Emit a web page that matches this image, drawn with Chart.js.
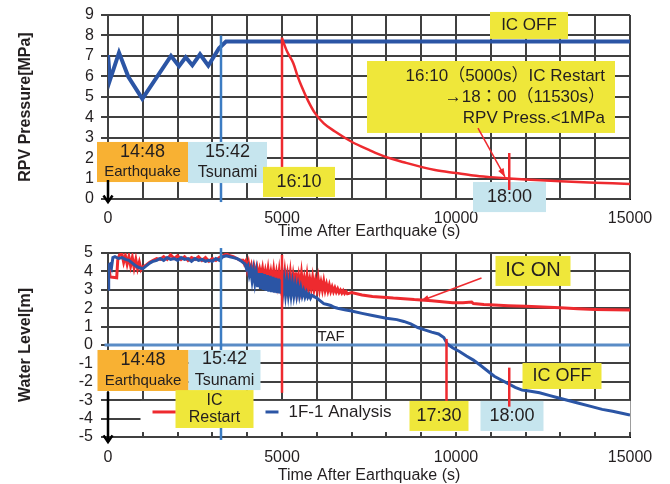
<!DOCTYPE html>
<html>
<head>
<meta charset="utf-8">
<script src="https://cdn.jsdelivr.net/npm/chart.js@4.4.1/dist/chart.umd.min.js"></script>
<style>
  html, body { margin: 0; padding: 0; background: #fff; }
  #wrap { position: relative; width: 670px; height: 484px; }
  .panel { position: absolute; left: 0; width: 670px; }
</style>
</head>
<body>
<div id="wrap">
  <div class="panel" style="top:0;height:240px"><canvas id="pressChart" width="670" height="240"></canvas></div>
  <div class="panel" style="top:240px;height:244px"><canvas id="levelChart" width="670" height="244"></canvas></div>
</div>
<script>
// RPV pressure (top panel)
const pressTime = [0, 57, 316, 584, 987, 1810, 2040, 2232, 2423, 2644, 2882, 3190, 3391, 15000];
const pressVal  = [7.04, 5.82, 7.16, 5.98, 4.9, 7.0, 6.5, 6.93, 6.54, 7.08, 6.52, 7.37, 7.7, 7.7];

const restartTime = [5000, 5150, 5325, 5450, 5565, 5750, 5948, 6200, 6523, 7000, 7500, 7960, 8500, 9397, 10000, 10500, 11000, 11530, 12000, 13000, 14000, 15000];
const restartVal  = [7.85, 7.2, 6.64, 6.0, 5.5, 4.8, 4.2, 3.7, 3.3, 2.8, 2.4, 2.07, 1.8, 1.42, 1.27, 1.15, 1.07, 1.0, 0.95, 0.87, 0.8, 0.73];

// Water level (bottom panel)
const levelSeries = ['IC Restart', '1F-1 Analysis'];

const icTime = [0, 30, 60, 250, 280, 330, 400, 450, 500, 550, 600, 650, 700, 750, 800, 850, 900, 950, 1000, 1100,
  1200, 1300, 1400, 1500, 1600, 1700, 1800, 1900, 2000, 2100, 2200, 2300, 2400, 2500, 2600, 2700, 2800, 2900, 3000,
  3100, 3200, 3300, 3400, 3500, 3600, 3700, 3800,
  3880, 3920, 3960, 4000, 4040, 4080, 4120, 4160, 4200, 4240, 4280, 4320, 4360, 4400, 4440, 4480, 4520, 4560, 4600,
  4640, 4680, 4720, 4760, 4800, 4840, 4880, 4920, 4960, 5000, 5040, 5080, 5120, 5160, 5200, 5240, 5280, 5320, 5360,
  5400, 5440, 5480, 5520, 5560, 5600, 5640, 5680, 5720, 5760, 5800, 5840, 5880, 5920, 5960, 6000, 6040, 6080, 6120,
  6160, 6200, 6240, 6280, 6320, 6360, 6400, 6440, 6480, 6520, 6560, 6600, 6640, 6680, 6720, 6760, 6800, 6840, 6880,
  7000, 7300, 7600, 7900, 8200, 8500, 8800, 9000, 9300, 9600, 9900, 10200, 10450, 10500, 10800, 11100, 11500, 12000,
  12500, 13000, 13500, 14000, 14500, 15000];
const icLevel = [4.4, 4.3, 3.7, 3.65, 4.6, 4.9, 4.95, 4.5, 4.85, 4.4, 4.8, 4.3, 4.75, 4.2, 4.65, 4.15, 4.5, 4.1, 4.25, 4.35,
  4.5, 4.6, 4.7, 4.65, 4.8, 4.65, 4.9, 4.7, 4.85, 4.65, 4.8, 4.6, 4.75, 4.65, 4.8, 4.6, 4.75, 4.55, 4.7,
  4.6, 4.75, 4.85, 4.95, 4.85, 4.8, 4.7, 4.6,
  4.6, 4.4, 4.55, 4.1, 4.45, 4.0, 4.3, 3.85, 4.25, 3.9, 4.2, 3.7, 4.1, 3.75, 4.15, 3.6, 4.0, 3.55, 4.1,
  3.5, 3.95, 3.45, 4.05, 3.4, 3.9, 3.35, 4.0, 3.3, 3.85, 3.25, 3.95, 3.2, 3.8, 3.2, 3.9, 3.15, 3.75, 3.15,
  3.95, 3.1, 3.7, 3.12, 3.85, 3.1, 3.6, 3.1, 3.75, 3.08, 3.55, 3.1, 3.65, 3.05, 3.5, 3.05, 3.6, 3.02, 3.4,
  3.0, 3.45, 2.98, 3.3, 2.95, 3.25, 2.92, 3.15, 2.9, 3.1, 2.88, 3.05, 2.85, 2.98, 2.82, 2.95, 2.8, 2.9, 2.78,
  2.85, 2.72, 2.64, 2.6, 2.55, 2.52, 2.47, 2.45, 2.4, 2.35, 2.3, 2.3, 2.33, 2.25, 2.2, 2.17, 2.13, 2.1,
  2.07, 2.02, 1.97, 1.93, 1.91, 1.9];

const anaTime = [0, 20, 60, 100, 140, 200, 300, 400, 500, 600, 700, 800, 900, 1000, 1100, 1200, 1300, 1400, 1500,
  1600, 1700, 1800, 1900, 2000, 2100, 2200, 2300, 2400, 2500, 2600, 2700, 2800, 2900, 3000, 3100, 3200, 3300, 3400,
  3500, 3600, 3700, 3800, 3900,
  3940, 3980, 4020, 4060, 4100, 4140, 4180, 4220, 4260, 4300, 4340, 4380, 4420, 4460, 4500, 4540, 4580, 4620, 4660,
  4700, 4740, 4780, 4820, 4860, 4900, 4940, 4980, 5020, 5060, 5100, 5140, 5180, 5220, 5260, 5300, 5340, 5380, 5420,
  5460, 5500, 5540, 5580, 5620, 5660, 5700, 5740, 5780, 5820, 5860,
  5950, 6000, 6100, 6200, 6300, 6400, 6500, 6600, 6800, 7000, 7300, 7600, 8000, 8300, 8500, 8700, 8900, 9100, 9300,
  9500, 9650, 9750, 9900, 10100, 10300, 10500, 10700, 10900, 11100, 11300, 11500, 11700, 11900, 12100, 12400, 12700,
  12900, 13200, 13500, 13900, 14200, 14500, 14800, 15000];
const anaLevel = [3.05, 4.35, 4.4, 4.2, 4.75, 4.8, 4.7, 4.75, 4.65, 4.6, 4.45, 4.3, 4.2, 4.15, 4.3, 4.45, 4.55, 4.6, 4.7,
  4.6, 4.75, 4.65, 4.7, 4.6, 4.75, 4.65, 4.7, 4.55, 4.7, 4.6, 4.65, 4.55, 4.6, 4.55, 4.7, 4.6, 4.8, 4.85,
  4.8, 4.75, 4.7, 4.6, 4.45,
  4.4, 4.15, 4.3, 3.8, 4.1, 3.5, 4.05, 3.4, 3.95, 3.15, 3.9, 3.05, 3.9, 3.0, 3.85, 2.95, 3.8, 2.9, 3.75,
  2.88, 3.7, 2.85, 3.65, 2.82, 3.6, 2.8, 3.55, 2.78, 3.5, 2.76, 3.45, 2.75, 3.4, 2.73, 3.35, 2.72, 3.25, 2.71,
  3.2, 2.7, 3.1, 2.68, 2.95, 2.62, 2.85, 2.6, 2.75, 2.55, 2.7,
  2.6, 2.55, 2.4, 2.25, 2.2, 2.15, 2.05, 2.0, 1.92, 1.85, 1.72, 1.6, 1.45, 1.38, 1.28, 1.15, 0.95, 0.82, 0.7,
  0.6, 0.4, 0.05, -0.15, -0.35, -0.6, -0.82, -1.1, -1.4, -1.7, -1.9, -2.1, -2.3, -2.45, -2.5, -2.6, -2.75,
  -2.85, -3.0, -3.15, -3.35, -3.5, -3.6, -3.72, -3.8];

const RED = '#ee2a2f';
const BLUE = '#2b55a5';
const LINE_BLUE = '#3c7cc3';
const TAF_BLUE = '#5a8cc6';
const YELLOW = '#efe73a';
const ORANGE = '#f8b133';
const LIGHT = '#c6e5ee';
const TEXT = '#231f20';
const GRID = '#404040';
const FONT = "'Liberation Sans', Arial, 'Noto Sans CJK JP', sans-serif";

function toPoints(xs, ys) {
    return xs.map((x, i) => ({ x: x, y: ys[i] }));
}

function lines(list, size) {
    return list.map(t => ({ text: t, size: size }));
}

// Annotations, positioned in axis units
const pressNotes = {
    under: [],
    over: [
        { type: 'line', x0: 3247, y0: 8.0, x1: 3247, y1: -0.15, color: LINE_BLUE, width: 2.5 },
        { type: 'line', x0: 5000, y0: 7.9, x1: 5000, y1: 1.5, color: RED, width: 2.5 },
        { type: 'box', x0: -316, x1: 2299, y0: 2.79, y1: 0.83, fill: ORANGE, lh: 20,
          lines: [{ text: '14:48', size: 18 }, { text: 'Earthquake', size: 15 }] },
        { type: 'box', x0: 2299, x1: 4569, y0: 2.79, y1: 0.78, fill: LIGHT, lh: 21,
          lines: [{ text: '15:42', size: 18 }, { text: 'Tsunami', size: 16 }] },
        { type: 'box', x0: 4454, x1: 6523, y0: 1.57, y1: 0.1, fill: YELLOW, lines: lines(['16:10'], 18) },
        { type: 'box', x0: 10977, x1: 13218, y0: 9.15, y1: 7.83, fill: YELLOW, lines: lines(['IC OFF'], 17) },
        { type: 'box', x0: 7443, x1: 14569, y0: 6.75, y1: 3.23, fill: YELLOW, align: 'right', lh: 21,
          lines: lines(['16:10（5000s）IC Restart', '→18：00（11530s）', 'RPV Press.<1MPa'], 17) },
        { type: 'box', x0: 10489, x1: 12586, y0: 0.83, y1: -0.64, fill: LIGHT, lines: lines(['18:00'], 18) },
        { type: 'line', x0: 11530, y0: 2.25, x1: 11530, y1: 0.44, color: RED, width: 2.5 },
        { type: 'arrow', x0: 10632, y0: 3.47, x1: 11408, y1: 1.08, color: RED, width: 1.5, head: 'fill' },
        { type: 'arrow', x0: 0, y0: 0.93, x1: 0, y1: -0.15, color: '#000', width: 2.5, head: 'open' }
    ]
};

const levelNotes = {
    under: [
        { type: 'line', x0: -100, y0: 0, x1: 15000, y1: 0, color: TAF_BLUE, width: 3 },
        { type: 'box', x0: 934, x1: 15014, y0: -3.04, y1: -4.73, fill: '#fff' }
    ],
    over: [
        { type: 'line', x0: 3247, y0: 5.27, x1: 3247, y1: -5.16, color: LINE_BLUE, width: 2.5 },
        { type: 'line', x0: 5000, y0: 4.9, x1: 5000, y1: -2.6, color: RED, width: 2.5 },
        { type: 'line', x0: 9727, y0: 0.33, x1: 9727, y1: -3.1, color: RED, width: 2.5 },
        { type: 'text', x: 6020, y: 0.43, text: 'TAF', size: 15 },
        { type: 'box', x0: -302, x1: 2313, y0: -0.27, y1: -2.5, fill: ORANGE, lh: 20,
          lines: [{ text: '14:48', size: 18 }, { text: 'Earthquake', size: 15 }] },
        { type: 'box', x0: 2313, x1: 4382, y0: -0.27, y1: -2.45, fill: LIGHT, lh: 21,
          lines: [{ text: '15:42', size: 18 }, { text: 'Tsunami', size: 16 }] },
        // legend
        { type: 'sample', ds: 0, x0: 1279, x1: 1950, y: -3.64 },
        { type: 'sample', ds: 1, x0: 4526, x1: 4899, y: -3.64 },
        { type: 'text', x: 5187, y: -3.64, text: levelSeries[1], size: 17 },
        { type: 'box', x0: 1940, x1: 4181, y0: -2.45, y1: -4.51, fill: YELLOW, lh: 17,
          lines: lines(levelSeries[0].split(' '), 16) },
        { type: 'box', x0: 8664, x1: 10359, y0: -3.04, y1: -4.67, fill: YELLOW, lines: lines(['17:30'], 18) },
        { type: 'box', x0: 10704, x1: 12514, y0: -3.04, y1: -4.67, fill: LIGHT, lines: lines(['18:00'], 18) },
        { type: 'box', x0: 11911, x1: 14181, y0: -0.98, y1: -2.39, fill: YELLOW, lines: lines(['IC OFF'], 18) },
        { type: 'box', x0: 11135, x1: 13290, y0: 4.84, y1: 3.21, fill: YELLOW, lines: lines(['IC ON'], 20) },
        { type: 'line', x0: 11530, y0: -1.23, x1: 11530, y1: -3.35, color: RED, width: 2.5 },
        { type: 'arrow', x0: 10733, y0: 3.64, x1: 8980, y1: 2.39, color: RED, width: 1.5, head: 'fill' },
        { type: 'arrow', x0: 0, y0: -2.55, x1: 0, y1: -5.27, color: '#000', width: 2.5, head: 'open' }
    ]
};

function drawNote(chart, n) {
    const ctx = chart.ctx;
    const px = v => chart.scales.x.getPixelForValue(v);
    const py = v => chart.scales.y.getPixelForValue(v);
    ctx.save();
    if (n.type === 'line') {
        ctx.strokeStyle = n.color;
        ctx.lineWidth = n.width;
        ctx.beginPath();
        ctx.moveTo(px(n.x0), py(n.y0));
        ctx.lineTo(px(n.x1), py(n.y1));
        ctx.stroke();
    } else if (n.type === 'box') {
        const l = px(n.x0), r = px(n.x1), t = py(n.y0), b = py(n.y1);
        ctx.fillStyle = n.fill;
        ctx.fillRect(l, t, r - l, b - t);
        if (n.lines) {
            const lh = n.lh || 20;
            const y0 = (t + b) / 2 - (n.lines.length - 1) * lh / 2;
            ctx.fillStyle = TEXT;
            ctx.textBaseline = 'middle';
            n.lines.forEach((ln, i) => {
                ctx.font = ln.size + 'px ' + FONT;
                if (n.align === 'right') {
                    ctx.textAlign = 'right';
                    ctx.fillText(ln.text, r - 10, y0 + i * lh);
                } else {
                    ctx.textAlign = 'center';
                    ctx.fillText(ln.text, (l + r) / 2, y0 + i * lh);
                }
            });
        }
    } else if (n.type === 'arrow') {
        const x0 = px(n.x0), y0 = py(n.y0), x1 = px(n.x1), y1 = py(n.y1);
        const a = Math.atan2(y1 - y0, x1 - x0);
        ctx.strokeStyle = n.color;
        ctx.fillStyle = n.color;
        ctx.lineWidth = n.width;
        ctx.beginPath();
        ctx.moveTo(x0, y0);
        ctx.lineTo(x1, y1);
        ctx.stroke();
        const len = n.head === 'open' ? 8 : 9, spread = n.head === 'open' ? 0.6 : 0.35;
        ctx.beginPath();
        ctx.moveTo(x1 - len * Math.cos(a - spread), y1 - len * Math.sin(a - spread));
        ctx.lineTo(x1, y1);
        ctx.lineTo(x1 - len * Math.cos(a + spread), y1 - len * Math.sin(a + spread));
        if (n.head === 'open') {
            ctx.stroke();
        } else {
            ctx.closePath();
            ctx.fill();
        }
    } else if (n.type === 'sample') {
        const ds = chart.data.datasets[n.ds];
        ctx.strokeStyle = ds.borderColor;
        ctx.lineWidth = 3;
        ctx.beginPath();
        ctx.moveTo(px(n.x0), py(n.y));
        ctx.lineTo(px(n.x1), py(n.y));
        ctx.stroke();
    } else if (n.type === 'text') {
        ctx.fillStyle = TEXT;
        ctx.font = n.size + 'px ' + FONT;
        ctx.textAlign = 'left';
        ctx.textBaseline = 'middle';
        ctx.fillText(n.text, px(n.x), py(n.y));
    }
    ctx.restore();
}

// Grid over the plot area, from the scales' own ticks
function drawGrid(chart) {
    const { ctx, chartArea: a, scales } = chart;
    ctx.save();
    ctx.strokeStyle = GRID;
    ctx.lineWidth = 2;
    scales.x.ticks.forEach(t => {
        const p = Math.round(scales.x.getPixelForValue(t.value));
        ctx.beginPath();
        ctx.moveTo(p, a.top);
        ctx.lineTo(p, a.bottom);
        ctx.stroke();
    });
    scales.y.ticks.forEach(t => {
        const p = Math.round(scales.y.getPixelForValue(t.value));
        ctx.beginPath();
        ctx.moveTo(a.left - 7, p);
        ctx.lineTo(a.right, p);
        ctx.stroke();
    });
    ctx.restore();
}

const notesPlugin = {
    id: 'notes',
    beforeDatasetsDraw(chart, args, opts) {
        drawGrid(chart);
        (opts.under || []).forEach(n => drawNote(chart, n));
    },
    afterDatasetsDraw(chart, args, opts) {
        (opts.over || []).forEach(n => drawNote(chart, n));
    }
};

function makeOptions(cfg) {
    return {
        responsive: false,
        animation: false,
        devicePixelRatio: 1,
        layout: { padding: { left: 0, right: 40, top: cfg.top, bottom: 0 } },
        elements: { point: { radius: 0 } },
        plugins: {
            legend: { display: false },
            tooltip: { enabled: false },
            notes: cfg.notes
        },
        scales: {
            x: {
                type: 'linear',
                min: 0,
                max: 15000,
                afterFit: s => { s.height = cfg.xHeight; },
                grid: { drawOnChartArea: false, drawTicks: false },
                border: { color: '#000', width: 2 },
                ticks: {
                    stepSize: 1000,
                    autoSkip: false,
                    maxTicksLimit: 20,
                    maxRotation: 0,
                    padding: cfg.xPad,
                    color: TEXT,
                    font: { family: FONT, size: 16 },
                    callback: v => (v % 5000 === 0 ? v : '')
                },
                title: {
                    display: true,
                    text: 'Time After Earthquake (s)',
                    color: TEXT,
                    font: { family: FONT, size: 16 },
                    padding: { top: 0, bottom: -1 }
                }
            },
            y: {
                type: 'linear',
                min: cfg.yMin,
                max: cfg.yMax,
                // fixed width, and no extra room above/below for the label padding
                afterFit: s => {
                    s.width = 108;
                    s.paddingTop = 0;
                    s.paddingBottom = 0;
                },
                grid: { drawOnChartArea: false, drawTicks: false },
                border: { color: '#000', width: 1.5 },
                ticks: {
                    stepSize: 1,
                    autoSkip: false,
                    maxTicksLimit: 20,
                    padding: cfg.yPad,
                    color: TEXT,
                    font: { family: FONT, size: 16 }
                },
                title: {
                    display: true,
                    text: cfg.yTitle,
                    color: TEXT,
                    font: { family: FONT, size: 16, weight: 'bold' },
                    padding: { top: 16, bottom: 0 }
                }
            }
        }
    };
}

new Chart(document.getElementById('pressChart'), {
    type: 'line',
    data: {
        datasets: [
            {
                label: 'RPV Pressure',
                data: toPoints(pressTime, pressVal),
                borderColor: BLUE,
                borderWidth: 4,
                tension: 0,
                order: 2
            },
            {
                label: 'IC Restart',
                data: toPoints(restartTime, restartVal),
                borderColor: RED,
                borderWidth: 2.5,
                cubicInterpolationMode: 'monotone',
                order: 1
            }
        ]
    },
    options: makeOptions({ top: 15, xHeight: 41, xPad: 10, yPad: 14, yMin: 0, yMax: 9,
        yTitle: 'RPV Pressure[MPa]', notes: pressNotes }),
    plugins: [notesPlugin]
});

new Chart(document.getElementById('levelChart'), {
    type: 'line',
    data: {
        datasets: [
            {
                label: levelSeries[0],
                data: toPoints(icTime, icLevel),
                borderColor: RED,
                borderWidth: 3,
                tension: 0,
                order: 2
            },
            {
                label: levelSeries[1],
                data: toPoints(anaTime, anaLevel),
                borderColor: BLUE,
                borderWidth: 3,
                tension: 0,
                order: 1
            }
        ]
    },
    options: makeOptions({ top: 13, xHeight: 47, xPad: 11, yPad: 15, yMin: -5, yMax: 5,
        yTitle: 'Water Level[m]', notes: levelNotes }),
    plugins: [notesPlugin]
});
</script>
</body>
</html>
